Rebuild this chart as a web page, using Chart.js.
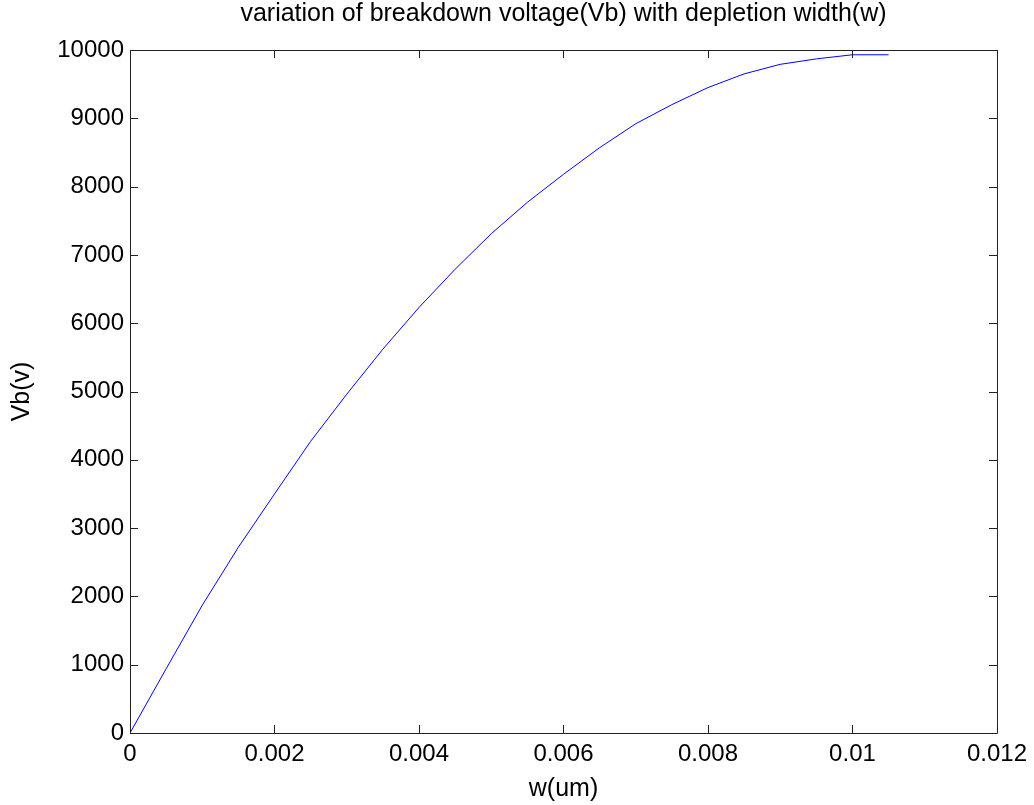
<!DOCTYPE html>
<html>
<head>
<meta charset="utf-8">
<script src="https://cdn.jsdelivr.net/npm/chart.js@4.4.1/dist/chart.umd.min.js"></script>
<style>
  html, body { margin: 0; padding: 0; background: #fff; }
  #wrap { width: 1034px; height: 805px; }
</style>
</head>
<body>
<div id="wrap"><canvas id="myChart" width="1034" height="805"></canvas></div>
<script>
'use strict';

// depletion width (um) and breakdown voltage (v)
let widthVals = [0, 0.0005, 0.001, 0.0015, 0.002, 0.0025, 0.003, 0.0035, 0.004, 0.0045, 0.005,
  0.0055, 0.006, 0.0065, 0.007, 0.0075, 0.008, 0.0085, 0.009, 0.0095, 0.01, 0.0105];
let voltVals = [0, 940, 1870, 2720, 3500, 4270, 4960, 5620, 6230, 6790, 7310,
  7770, 8180, 8570, 8920, 9200, 9450, 9650, 9790, 9870, 9930, 9930];
let xTickLabels = ['0', '0.002', '0.004', '0.006', '0.008', '0.01', '0.012'];
let yTickLabels = ['0', '1000', '2000', '3000', '4000', '5000', '6000', '7000', '8000', '9000', '10000'];
let chartTitle = 'variation of breakdown voltage(Vb) with depletion width(w)';

let points = [];
for (let i = 0; i < widthVals.length; i++) {
  points.push({ x: widthVals[i], y: voltVals[i] });
}

Chart.defaults.font.family = '"Liberation Sans", Arial, sans-serif';
Chart.defaults.color = '#000';

// matlab style box with inward ticks on all four sides, title centred on the axes box
let boxTicks = {
  id: 'boxTicks',
  afterDraw(chart) {
    let ctx = chart.ctx;
    let a = chart.chartArea;
    let xs = chart.scales.x;
    let ys = chart.scales.y;
    let len = 8;
    ctx.save();
    ctx.strokeStyle = '#222';
    ctx.lineWidth = 1;
    ctx.beginPath();
    ctx.rect(a.left + 0.5, a.top + 0.5, a.right - a.left, a.bottom - a.top);
    xs.ticks.forEach(t => {
      let px = Math.round(xs.getPixelForValue(t.value)) + 0.5;
      ctx.moveTo(px, a.bottom);
      ctx.lineTo(px, a.bottom - len);
      ctx.moveTo(px, a.top);
      ctx.lineTo(px, a.top + len);
    });
    ys.ticks.forEach(t => {
      let py = Math.round(ys.getPixelForValue(t.value)) + 0.5;
      ctx.moveTo(a.left, py);
      ctx.lineTo(a.left + len, py);
      ctx.moveTo(a.right, py);
      ctx.lineTo(a.right - len, py);
    });
    ctx.stroke();

    ctx.fillStyle = '#000';
    ctx.font = '25px "Liberation Sans", Arial, sans-serif';
    ctx.textAlign = 'center';
    ctx.textBaseline = 'middle';
    ctx.fillText(chartTitle, (a.left + a.right) / 2, 14);
    ctx.restore();
  }
};

let ctx = document.getElementById('myChart').getContext('2d');
let chart = new Chart(ctx, {
  type: 'line',
  data: {
    datasets: [{
      label: 'Vb',
      data: points,
      borderColor: 'rgb(0, 0, 255)',
      borderWidth: 1,
      pointRadius: 0,
      tension: 0,
      fill: false
    }]
  },
  options: {
    responsive: false,
    animation: false,
    layout: { padding: { left: 0, right: 36, top: 50, bottom: 0 } },
    plugins: {
      legend: { display: false },
      tooltip: { enabled: false },
      title: { display: false }
    },
    scales: {
      x: {
        type: 'linear',
        min: 0,
        max: 0.012,
        grid: { display: false, drawTicks: false },
        border: { display: false },
        afterFit: s => { s.height = 72; },
        ticks: {
          stepSize: 0.002,
          padding: 7,
          font: { size: 24 },
          maxRotation: 0,
          callback: (v, i) => xTickLabels[i]
        },
        title: {
          display: true,
          text: 'w(um)',
          font: { size: 25 },
          padding: { top: 0, bottom: 1 }
        }
      },
      y: {
        type: 'linear',
        min: 0,
        max: 10000,
        grid: { display: false, drawTicks: false },
        border: { display: false },
        afterFit: s => { s.width = 130; },
        ticks: {
          stepSize: 1000,
          padding: 6,
          font: { size: 24 },
          callback: (v, i) => yTickLabels[i]
        },
        title: {
          display: true,
          text: 'Vb(v)',
          font: { size: 25 },
          padding: { top: 7, bottom: 0 }
        }
      }
    }
  },
  plugins: [boxTicks]
});
</script>
</body>
</html>
